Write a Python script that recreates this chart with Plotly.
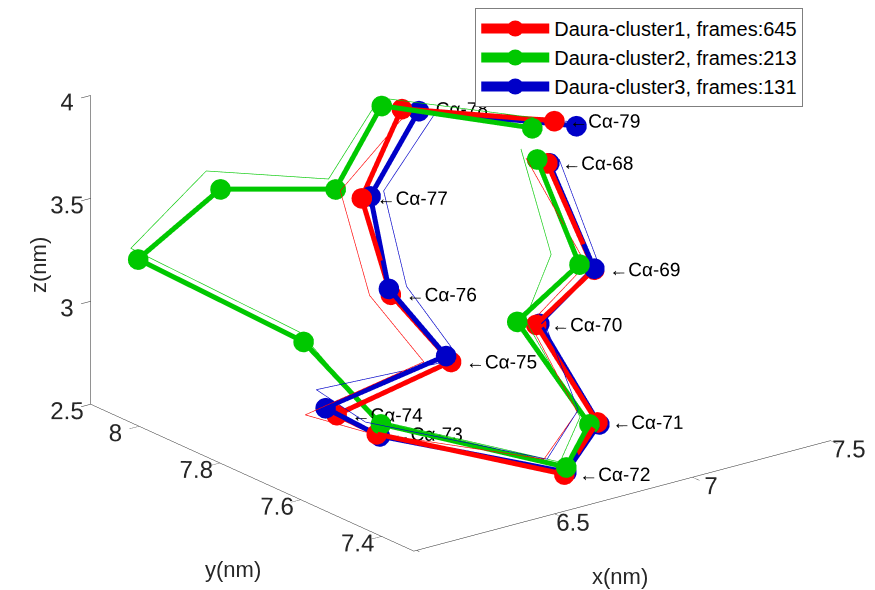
import plotly.graph_objects as go

residues = list(range(68, 80))
label_text = [f"\u2190C\u03b1-{r}" for r in residues]

series_names = ["Daura-cluster1, frames:645", "Daura-cluster2, frames:213", "Daura-cluster3, frames:131"]
series_colors = ["rgb(255,0,0)", "rgb(0,200,0)", "rgb(0,0,200)"]

# thick (cluster representative) coordinates, nm
c1_x = [6.81, 6.834, 6.843, 6.845, 6.652, 6.338, 6.266, 6.461, 6.389, 6.357, 6.722, 7.055]
c1_y = [7.55, 7.45, 7.60, 7.45, 7.40, 7.65, 7.70, 7.55, 7.65, 7.70, 7.85, 7.70]
c1_z = [3.889, 3.453, 3.048, 2.707, 2.567, 2.651, 2.725, 3.048, 3.311, 3.746, 3.916, 3.873]

c2_x = [6.773, 6.780, 6.774, 6.816, 6.659, 6.353, 6.439, 6.103, 6.255, 6.482, 6.649, 6.975]
c2_y = [7.55, 7.45, 7.60, 7.45, 7.40, 7.65, 7.90, 8.08, 7.98, 7.85, 7.85, 7.70]
c2_z = [3.921, 3.497, 3.087, 2.708, 2.599, 2.694, 2.841, 3.200, 3.576, 3.611, 3.957, 3.867]

c3_x = [6.817, 6.834, 6.854, 6.852, 6.659, 6.349, 6.226, 6.443, 6.382, 6.389, 6.784, 7.135]
c3_y = [7.55, 7.45, 7.60, 7.45, 7.40, 7.65, 7.70, 7.55, 7.65, 7.70, 7.85, 7.70]
c3_z = [3.887, 3.458, 3.049, 2.695, 2.575, 2.637, 2.773, 3.083, 3.342, 3.744, 3.884, 3.820]

# thin companion traces, nm
t1_x = [6.733, 6.805, 6.821, 6.772, 6.579, 6.298, 6.153, 6.363, 6.313, 6.280, 6.748, 7.037]
t1_y = c1_y
t1_z = [3.941, 3.487, 3.060, 2.782, 2.666, 2.675, 2.765, 3.082, 3.333, 3.808, 3.897, 3.894]

t2_x = [6.715, 6.678, 6.803, 6.783, 6.637, 6.335, 6.428, 6.077, 6.204, 6.457, 6.642, 6.982]
t2_y = c2_y
t2_z = [3.991, 3.581, 3.086, 2.754, 2.631, 2.720, 2.889, 3.262, 3.682, 3.669, 3.998, 3.914]

t3_x = [6.853, 6.849, 6.872, 6.776, 6.590, 6.298, 6.193, 6.493, 6.447, 6.437, 6.849, 7.171]
t3_y = c3_y
t3_z = [3.893, 3.477, 3.052, 2.791, 2.662, 2.723, 2.873, 3.051, 3.329, 3.752, 3.861, 3.822]

x_ticks = [6, 6.5, 7, 7.5]
y_ticks = [7.4, 7.6, 7.8, 8]
z_ticks = [2.5, 3, 3.5, 4]

thick = [(c1_x, c1_y, c1_z), (c2_x, c2_y, c2_z), (c3_x, c3_y, c3_z)]
thin = [(t1_x, t1_y, t1_z), (t2_x, t2_y, t2_z), (t3_x, t3_y, t3_z)]

FONT = "Liberation Sans, Arial, sans-serif"
INK = "#262626"
fig = go.Figure()

for (tx, ty, tz), col in zip(thin, series_colors):
    fig.add_trace(go.Scatter3d(x=tx, y=ty, z=tz, mode="lines",
                               line=dict(color=col, width=1.3),
                               showlegend=False, hoverinfo="skip"))

for (cx, cy, cz), col, name in zip(thick, series_colors, series_names):
    fig.add_trace(go.Scatter3d(x=cx, y=cy, z=cz, mode="lines+markers", name=name,
                               line=dict(color=col, width=10),
                               marker=dict(color=col, size=12, symbol="circle",
                                           line=dict(width=0)),
                               showlegend=False))

fig.add_trace(go.Scatter3d(x=c1_x, y=c1_y, z=c1_z, mode="text", text=label_text,
                           textposition="middle right",
                           textfont=dict(family=FONT, size=19, color="black"),
                           showlegend=False, hoverinfo="skip"))

# legend entries (empty 2D traces so the legend icons can show large markers)
for col, name in zip(series_colors, series_names):
    fig.add_trace(go.Scatter(x=[None], y=[None], mode="lines+markers", name=name,
                             line=dict(color=col, width=10),
                             marker=dict(color=col, size=20, symbol="circle")))

def axis(rng, ticks):
    return dict(title=dict(text=""),
                range=rng, autorange=False, tickvals=ticks,
                ticktext=[f"{t:g}" for t in ticks],
                tickfont=dict(family=FONT, size=17, color=INK),
                tickangle=0,
                showgrid=False, showbackground=False, zeroline=False,
                showline=True, linecolor=INK, linewidth=1,
                ticks="outside", ticklen=12, tickcolor=INK,
                showspikes=False)

view_dir = (-0.569, -0.745, 0.347)
r = (0.794, -0.607, 0.0)
u = (0.211, 0.276, 0.938)
sh_r = 15.5 / 304
sh_u = 36 / 304
cen = tuple(-sh_r * r[i] - sh_u * u[i] for i in range(3))
eye = tuple(cen[i] + view_dir[i] for i in range(3))

fig.update_layout(
    width=875, height=590,
    margin=dict(l=0, r=0, t=0, b=0),
    paper_bgcolor="white",
    plot_bgcolor="rgba(0,0,0,0)",
    showlegend=True,
    xaxis=dict(visible=False),
    yaxis=dict(visible=False),
    scene=dict(
        xaxis=axis([5.99, 7.5], x_ticks),
        yaxis=axis([7.32, 8.12], y_ticks),
        zaxis=axis([2.5, 4], z_ticks),
        aspectmode="manual",
        aspectratio=dict(x=1.777, y=1.805, z=1.116),
        camera=dict(eye=dict(x=eye[0], y=eye[1], z=eye[2]),
                    up=dict(x=0, y=0, z=1),
                    center=dict(x=cen[0], y=cen[1], z=cen[2]),
                    projection=dict(type="orthographic")),
        domain=dict(x=[0, 1], y=[0, 1]),
    ),
    legend=dict(x=0.534, y=1.0, xanchor="left", yanchor="top",
                bordercolor="#7f7f7f", borderwidth=1, bgcolor="white",
                font=dict(family=FONT, size=20, color="black"),
                itemwidth=68, tracegroupgap=0),
    annotations=[
        dict(text="z(nm)", x=30 / 875, y=1 - 257 / 590, xref="paper", yref="paper",
             xanchor="center", yanchor="middle",
             showarrow=False, textangle=-90, font=dict(family=FONT, size=22, color=INK)),
        dict(text="y(nm)", x=225 / 875, y=1 - 561 / 590, xref="paper", yref="paper",
             xanchor="center", yanchor="middle",
             showarrow=False, font=dict(family=FONT, size=22, color=INK)),
        dict(text="x(nm)", x=612 / 875, y=1 - 568 / 590, xref="paper", yref="paper",
             xanchor="center", yanchor="middle",
             showarrow=False, font=dict(family=FONT, size=22, color=INK)),
    ],
)

fig.write_html("out.html", config={"displayModeBar": False})
